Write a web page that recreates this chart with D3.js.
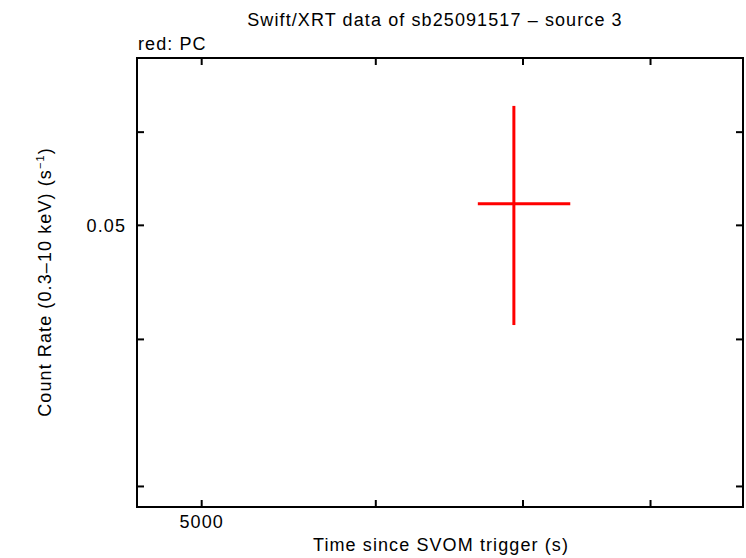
<!DOCTYPE html>
<html>
<head>
<meta charset="utf-8">
<script src="https://cdn.jsdelivr.net/npm/d3@7"></script>
<style>
  body { margin: 0; background: #fff; }
  svg { display: block; }
  text { font-family: "Liberation Sans", Arial, sans-serif; fill: #000; letter-spacing: 1.1px; }
</style>
</head>
<body>
<div id="chart"></div>
<script>
// data
var pointTime = [6937];
var pointTimeLo = [6680];
var pointTimeHi = [7359];
var pointRate = [0.0521];
var pointRateLo = [0.0411];
var pointRateHi = [0.0631];

var xDomain = [4675, 8818];
var yDomain = [0.02879, 0.0693];
var xTicks = [5000, 6000, 7000, 8000];
var xTickLabels = ["5000", "", "", ""];
var yTicks = [0.03, 0.04, 0.05, 0.06];
var yTickLabels = ["", "", "0.05", ""];

// size
var W = 746, H = 558;
var margin = {top: 58, right: 3, bottom: 51, left: 137};
var plotW = W - margin.left - margin.right;
var plotH = H - margin.top - margin.bottom;

var svg = d3.select("#chart").append("svg").attr("width", W).attr("height", H);
var g = svg.append("g").attr("transform", "translate(" + margin.left + "," + margin.top + ")");

var xScale = d3.scaleLog().domain(xDomain).range([0, plotW]);
var yScale = d3.scaleLog().domain(yDomain).range([plotH, 0]);

var tickLen = 7;

// axes, ticks pointing inward, on all four sides
function xAxisOf(axisFn, size) {
    return axisFn(xScale).tickValues(xTicks)
        .tickFormat(function(d, i){ return xTickLabels[i]; })
        .tickSizeInner(size).tickSizeOuter(0);
}
function yAxisOf(axisFn, size) {
    return axisFn(yScale).tickValues(yTicks)
        .tickFormat(function(d, i){ return yTickLabels[i]; })
        .tickSizeInner(size).tickSizeOuter(0);
}

var axB = g.append("g").attr("transform", "translate(0," + plotH + ")").call(xAxisOf(d3.axisBottom, -tickLen));
axB.selectAll("text").attr("y", 21).attr("dy", 0);
var axT = g.append("g").call(xAxisOf(d3.axisTop, -tickLen));
axT.selectAll("text").remove();
var axL = g.append("g").call(yAxisOf(d3.axisLeft, -tickLen));
axL.selectAll("text").attr("x", -11).attr("dy", "0.35em");
var axR = g.append("g").attr("transform", "translate(" + plotW + ",0)").call(yAxisOf(d3.axisRight, -tickLen));
axR.selectAll("text").remove();

svg.selectAll(".domain").remove();
svg.selectAll(".tick line").attr("stroke", "#000").attr("stroke-width", 2);
svg.selectAll(".tick text").attr("font-size", null).attr("font-family", null)
    .style("font-size", "18px").style("letter-spacing", "1.1px");

// frame
g.append("rect").attr("x", 0).attr("y", 0).attr("width", plotW).attr("height", plotH)
    .attr("fill", "none").attr("stroke", "#000").attr("stroke-width", 2);

// data: error crosses
var pts = g.selectAll("g.pt").data(pointTime).enter().append("g").attr("class", "pt");
pts.append("line")
    .attr("x1", function(d, i){ return xScale(pointTimeLo[i]); })
    .attr("x2", function(d, i){ return xScale(pointTimeHi[i]); })
    .attr("y1", function(d, i){ return yScale(pointRate[i]); })
    .attr("y2", function(d, i){ return yScale(pointRate[i]); })
    .attr("stroke", "#f00").attr("stroke-width", 3);
pts.append("line")
    .attr("x1", function(d){ return xScale(d); })
    .attr("x2", function(d){ return xScale(d); })
    .attr("y1", function(d, i){ return yScale(pointRateLo[i]); })
    .attr("y2", function(d, i){ return yScale(pointRateHi[i]); })
    .attr("stroke", "#f00").attr("stroke-width", 3);

// titles
svg.append("text").attr("x", 435).attr("y", 26).attr("text-anchor", "middle")
    .style("font-size", "18px").text("Swift/XRT data of sb25091517 \u2013 source 3");
svg.append("text").attr("x", 138).attr("y", 50)
    .style("font-size", "18px").text("red: PC");
svg.append("text").attr("x", 441).attr("y", 551).attr("text-anchor", "middle")
    .style("font-size", "18px").text("Time since SVOM trigger (s)");

var yl = svg.append("text").attr("transform", "translate(51,282) rotate(-90)")
    .attr("text-anchor", "middle").style("font-size", "18px");
yl.append("tspan").text("Count Rate (0.3\u201310 keV) (s");
yl.append("tspan").attr("dy", "-7").style("font-size", "11px").text("\u22121");
yl.append("tspan").attr("dy", "7").text(")");
</script>
</body>
</html>
